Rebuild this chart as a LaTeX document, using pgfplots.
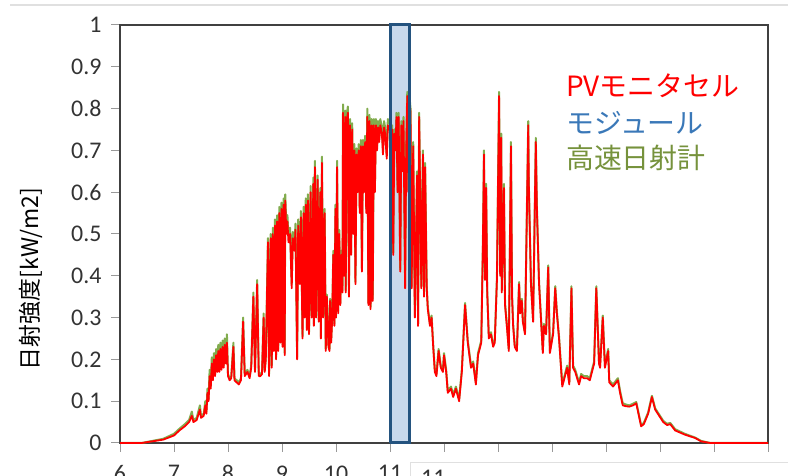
\documentclass[border=0pt]{standalone}
\usepackage{pgfplots}
\usepackage{pgfplotstable}
\pgfplotsset{compat=1.18}
\usepackage{fontspec}
\setmainfont{Carlito}
\newfontfamily\cjk{Noto Sans CJK JP}
\definecolor{pvred}{HTML}{FF0000}
\definecolor{gr}{HTML}{82AC4E}
\definecolor{grtext}{HTML}{76923C}
\definecolor{bltext}{HTML}{3A78B8}
\definecolor{rectfill}{HTML}{C9D9EC}
\definecolor{rectedge}{HTML}{24537F}

\pgfplotstableread{
h R G
6.00 0 0
6.40 0 0
6.60 0.004 0.005
6.80 0.008 0.010
7.00 0.018 0.022
7.10 0.030 0.034
7.20 0.040 0.045
7.28 0.050 0.055
7.33 0.065 0.075
7.36 0.050 0.055
7.42 0.055 0.060
7.48 0.080 0.090
7.50 0.060 0.065
7.55 0.065 0.070
7.58 0.090 0.100
7.60 0.070 0.075
7.62 0.120 0.130
7.64 0.100 0.105
7.66 0.160 0.175
7.68 0.130 0.135
7.70 0.190 0.205
7.72 0.150 0.155
7.74 0.200 0.215
7.76 0.160 0.165
7.78 0.210 0.225
7.80 0.170 0.175
7.82 0.220 0.235
7.84 0.170 0.175
7.86 0.225 0.240
7.88 0.175 0.180
7.90 0.230 0.245
7.92 0.180 0.185
7.94 0.235 0.250
7.96 0.190 0.195
7.98 0.240 0.260
8.00 0.160 0.165
8.03 0.150 0.155
8.06 0.155 0.160
8.10 0.230 0.240
8.12 0.150 0.155
8.16 0.145 0.150
8.20 0.140 0.145
8.24 0.150 0.155
8.28 0.290 0.300
8.31 0.160 0.165
8.36 0.170 0.175
8.40 0.155 0.160
8.43 0.180 0.185
8.47 0.350 0.360
8.50 0.170 0.175
8.54 0.380 0.390
8.57 0.160 0.165
8.60 0.160 0.165
8.63 0.165 0.170
8.66 0.300 0.310
8.68 0.170 0.175
8.70 0.200 0.205
8.74 0.480 0.490
8.76 0.160 0.165
8.79 0.490 0.500
8.81 0.180 0.185
8.83 0.500 0.515
8.85 0.220 0.225
8.87 0.520 0.535
8.89 0.200 0.205
8.91 0.530 0.545
8.93 0.220 0.225
8.95 0.550 0.565
8.97 0.240 0.245
8.99 0.560 0.575
9.01 0.230 0.235
9.03 0.570 0.585
9.05 0.210 0.215
9.06 0.580 0.595
9.08 0.500 0.520
9.10 0.530 0.545
9.12 0.480 0.495
9.15 0.500 0.515
9.18 0.370 0.380
9.20 0.490 0.505
9.23 0.460 0.470
9.25 0.510 0.525
9.28 0.200 0.205
9.30 0.520 0.535
9.33 0.380 0.385
9.35 0.540 0.555
9.38 0.250 0.255
9.40 0.550 0.565
9.42 0.300 0.305
9.44 0.570 0.585
9.46 0.270 0.275
9.48 0.580 0.595
9.50 0.260 0.265
9.53 0.600 0.615
9.55 0.300 0.305
9.58 0.620 0.635
9.59 0.280 0.285
9.61 0.660 0.675
9.63 0.300 0.305
9.66 0.630 0.640
9.68 0.290 0.295
9.71 0.600 0.610
9.72 0.250 0.255
9.74 0.670 0.685
9.76 0.300 0.305
9.79 0.550 0.560
9.81 0.220 0.225
9.83 0.350 0.355
9.86 0.230 0.235
9.88 0.220 0.225
9.89 0.340 0.345
9.91 0.240 0.245
9.93 0.300 0.305
9.95 0.450 0.460
9.97 0.280 0.285
9.99 0.560 0.570
10.00 0.300 0.305
10.02 0.660 0.675
10.04 0.310 0.315
10.06 0.500 0.510
10.08 0.330 0.335
10.10 0.450 0.460
10.12 0.360 0.365
10.13 0.790 0.810
10.15 0.400 0.405
10.17 0.780 0.795
10.18 0.360 0.365
10.20 0.770 0.785
10.22 0.790 0.805
10.24 0.350 0.355
10.26 0.760 0.775
10.28 0.450 0.455
10.30 0.750 0.765
10.32 0.500 0.505
10.34 0.700 0.715
10.36 0.380 0.385
10.38 0.690 0.705
10.40 0.600 0.610
10.42 0.700 0.715
10.44 0.550 0.560
10.46 0.710 0.725
10.48 0.410 0.415
10.50 0.710 0.725
10.52 0.600 0.610
10.54 0.720 0.735
10.56 0.550 0.560
10.58 0.780 0.800
10.60 0.330 0.335
10.62 0.770 0.785
10.64 0.320 0.325
10.66 0.760 0.775
10.68 0.340 0.345
10.70 0.760 0.775
10.72 0.600 0.610
10.74 0.760 0.775
10.76 0.700 0.710
10.78 0.755 0.770
10.80 0.720 0.730
10.82 0.760 0.775
10.85 0.740 0.755
10.87 0.690 0.700
10.89 0.755 0.770
10.91 0.740 0.755
10.94 0.680 0.690
10.96 0.760 0.775
10.98 0.750 0.765
11.00 0.760 0.770
11.02 0.720 0.730
11.04 0.750 0.760
11.06 0.450 0.455
11.08 0.740 0.750
11.10 0.700 0.710
11.12 0.780 0.790
11.14 0.600 0.605
11.16 0.780 0.790
11.19 0.410 0.415
11.21 0.760 0.770
11.23 0.650 0.655
11.25 0.770 0.780
11.28 0.370 0.375
11.30 0.700 0.710
11.32 0.830 0.840
11.34 0.600 0.605
11.36 0.820 0.830
11.38 0.790 0.800
11.40 0.370 0.375
11.43 0.710 0.720
11.46 0.300 0.305
11.50 0.640 0.650
11.52 0.280 0.285
11.54 0.780 0.790
11.58 0.370 0.375
11.61 0.690 0.700
11.63 0.350 0.355
11.65 0.660 0.670
11.68 0.370 0.375
11.70 0.320 0.325
11.74 0.280 0.285
11.77 0.300 0.305
11.80 0.230 0.235
11.83 0.170 0.175
11.86 0.160 0.165
11.90 0.220 0.225
11.94 0.180 0.185
11.98 0.170 0.175
12.00 0.210 0.215
12.04 0.170 0.175
12.07 0.120 0.125
12.13 0.130 0.135
12.17 0.110 0.115
12.22 0.130 0.135
12.28 0.100 0.105
12.33 0.170 0.175
12.39 0.330 0.335
12.44 0.240 0.245
12.50 0.180 0.185
12.54 0.190 0.195
12.59 0.140 0.145
12.63 0.210 0.215
12.69 0.240 0.245
12.72 0.470 0.475
12.74 0.690 0.700
12.76 0.390 0.395
12.78 0.610 0.620
12.80 0.360 0.365
12.83 0.250 0.255
12.87 0.260 0.265
12.91 0.230 0.235
12.94 0.240 0.245
12.98 0.390 0.395
13.02 0.830 0.840
13.04 0.400 0.405
13.06 0.730 0.740
13.07 0.360 0.365
13.11 0.610 0.620
13.13 0.330 0.335
13.17 0.270 0.275
13.20 0.220 0.225
13.24 0.710 0.720
13.26 0.350 0.355
13.28 0.280 0.285
13.31 0.230 0.235
13.35 0.220 0.225
13.39 0.380 0.385
13.41 0.310 0.315
13.44 0.340 0.345
13.46 0.290 0.295
13.50 0.260 0.265
13.56 0.760 0.770
13.57 0.620 0.625
13.61 0.380 0.385
13.65 0.290 0.295
13.70 0.720 0.730
13.72 0.560 0.565
13.76 0.380 0.385
13.83 0.215 0.220
13.85 0.280 0.285
13.89 0.260 0.265
13.93 0.420 0.425
13.96 0.215 0.220
14.02 0.260 0.265
14.06 0.370 0.375
14.09 0.310 0.315
14.13 0.250 0.255
14.19 0.135 0.140
14.24 0.160 0.165
14.28 0.180 0.185
14.32 0.140 0.145
14.36 0.370 0.375
14.39 0.180 0.185
14.43 0.170 0.175
14.50 0.140 0.145
14.54 0.160 0.165
14.59 0.155 0.160
14.65 0.155 0.160
14.70 0.150 0.155
14.78 0.190 0.195
14.82 0.370 0.375
14.87 0.190 0.195
14.89 0.180 0.185
14.94 0.300 0.305
14.98 0.180 0.185
15.04 0.220 0.225
15.06 0.145 0.150
15.13 0.135 0.140
15.22 0.150 0.155
15.26 0.120 0.125
15.31 0.090 0.095
15.37 0.088 0.092
15.43 0.087 0.090
15.50 0.090 0.094
15.56 0.095 0.098
15.65 0.040 0.043
15.70 0.045 0.048
15.78 0.070 0.073
15.85 0.110 0.113
15.91 0.080 0.083
15.96 0.070 0.073
16.06 0.050 0.053
16.13 0.043 0.046
16.19 0.045 0.048
16.28 0.030 0.033
16.46 0.020 0.022
16.65 0.012 0.013
16.76 0.004 0.005
16.93 0 0
18.00 0 0
}\data

\begin{document}
\begin{tikzpicture}[x=1bp,y=1bp]
\useasboundingbox (0,0) rectangle (788,476);
\clip (0,0) rectangle (788,476);
\draw[black!12, line width=1.2bp] (10,471) -- (788,471);
\begin{axis}[
  at={(120bp,33bp)}, anchor=south west,
  scale only axis, width=648bp, height=418bp,
  xmin=6, xmax=18, ymin=0, ymax=1,
  clip=false,
  xtick={6,7,8,9,10,11,12,13,14,15,16,17,18},
  xticklabels={6,7,8,9,10,11,,,,,,,},
  ytick={0,0.1,0.2,0.3,0.4,0.5,0.6,0.7,0.8,0.9,1},
  yticklabels={0,0.1,0.2,0.3,0.4,0.5,0.6,0.7,0.8,0.9,1},
  tick pos=left, tick align=outside,
  major tick length=9bp,
  tick style={draw=black!40, line width=1bp},
  axis line style={draw=black!75, line width=2bp},
  tick label style={font=\fontsize{24}{26}\selectfont, text=black!80},
  yticklabel style={xshift=-6bp},
  xticklabel style={yshift=-10bp},
]
\addplot[draw=none, fill=rectfill] coordinates {(11,0) (11,1) (11.37,1) (11.37,0) (11,0)};
\addplot[draw=gr, line width=2bp, line join=round] table[x=h, y=G] {\data};
\addplot[draw=pvred, line width=1.8bp, line join=round] table[x=h, y=R] {\data};
\addplot[draw=rectedge, line width=3bp, line join=miter] coordinates {(11,0) (11,1) (11.37,1) (11.37,0) (11,0)};
\end{axis}
\node[rotate=90, font=\cjk\fontsize{23}{25}\selectfont, text=black] at (31,197) {日射強度[kW/m2]};
\node[anchor=west, font=\cjk\fontsize{28}{30}\selectfont, text=pvred, inner sep=0pt] at (566,390) {PVモニタセル};
\node[anchor=west, font=\cjk\fontsize{28}{30}\selectfont, text=bltext, inner sep=0pt] at (566,353) {モジュール};
\node[anchor=west, font=\cjk\fontsize{28}{30}\selectfont, text=grtext, inner sep=0pt] at (566,318) {高速日射計};
\fill[white] (410,-5) rectangle (790,13);
\draw[black!12, line width=1bp] (410,-5) -- (410,13) -- (790,13);
\node[anchor=north west, font=\fontsize{24}{26}\selectfont, text=black!80, inner sep=0pt] at (421,6) {11};
\end{tikzpicture}
\end{document}
